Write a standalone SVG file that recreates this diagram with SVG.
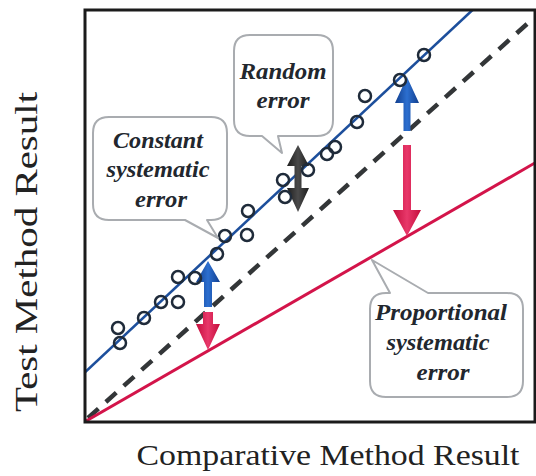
<svg xmlns="http://www.w3.org/2000/svg" width="536" height="476" viewBox="0 0 536 476">
  <style>
    .frame { fill: none; stroke: #1b1b1b; stroke-width: 3; }
    .axis-title { font-family: "Liberation Serif", "DejaVu Serif", serif; fill: #222; }
    .callout { fill: #ffffff; stroke: #a9acb0; stroke-width: 2; stroke-linejoin: round; }
    .callout-text { font-family: "Liberation Serif", "DejaVu Serif", serif; font-weight: bold; font-style: italic; font-size: 24px; fill: #22272e; text-anchor: middle; }
    .pt { fill: none; stroke: #1f2b3a; stroke-width: 2.5; }
    .fit-line { fill: none; stroke: #1d4f9c; stroke-width: 2.6; }
    .ident-line { fill: none; stroke: #333638; stroke-width: 4.5; stroke-dasharray: 14 10; }
    .prop-line { fill: none; stroke: #d3144a; stroke-width: 3; }
    .arrow-blue { fill: url(#gBlue); }
    .arrow-red { fill: url(#gRed); }
    .arrow-dark { fill: url(#gDark); }
  </style>
  <defs>
    <clipPath id="plotArea">
      <rect x="85" y="10" width="450" height="412"/>
    </clipPath>
    <linearGradient id="gBlue" x1="0" y1="0" x2="1" y2="0">
      <stop offset="0" stop-color="#123f8e"/>
      <stop offset="0.5" stop-color="#2c6fd0"/>
      <stop offset="1" stop-color="#123f8e"/>
    </linearGradient>
    <linearGradient id="gRed" x1="0" y1="0" x2="1" y2="0">
      <stop offset="0" stop-color="#c40d3c"/>
      <stop offset="0.5" stop-color="#e8386a"/>
      <stop offset="1" stop-color="#c40d3c"/>
    </linearGradient>
    <linearGradient id="gDark" x1="0" y1="0" x2="1" y2="0">
      <stop offset="0" stop-color="#1e1e1e"/>
      <stop offset="0.5" stop-color="#4a4a4a"/>
      <stop offset="1" stop-color="#1e1e1e"/>
    </linearGradient>
  </defs>

  <rect width="536" height="476" fill="#ffffff"/>

  <!-- axis titles -->
  <text class="axis-title" font-size="32" text-anchor="middle" textLength="320" lengthAdjust="spacingAndGlyphs" transform="translate(37,252) rotate(-90)">Test Method Result</text>
  <text class="axis-title" x="328" y="465" font-size="30" text-anchor="middle" textLength="383" lengthAdjust="spacingAndGlyphs">Comparative Method Result</text>

  <!-- lines and error arrows -->
  <g id="connectors">
    <g clip-path="url(#plotArea)">
      <line class="ident-line" x1="88" y1="418" x2="527" y2="24"/>
      <line class="prop-line" x1="86" y1="421" x2="540" y2="160"/>
      <line class="fit-line" x1="80" y1="377" x2="480" y2="3"/>
    </g>
    <!-- constant systematic error -->
    <path class="arrow-blue" d="M204,307 V282 H196 L208,261 L220,282 H212 V307 Z"/>
    <path class="arrow-red" d="M203,312 V324 H196 L208,350 L220,324 H213 V312 Z"/>
    <!-- proportional systematic error -->
    <path class="arrow-blue" d="M403.5,131 V103 H395 L407,77 L419,103 H410.5 V131 Z"/>
    <path class="arrow-red" d="M403,145 V210 H393 L407,236 L421,210 H411 V145 Z"/>
    <!-- random error -->
    <path class="arrow-dark" d="M298,145 L309,166 H301.5 V188 H309 L298,212 L287,188 H294.5 V166 H287 Z"/>
  </g>

  <!-- data points -->
  <g id="points">
    <circle class="pt" cx="118" cy="328" r="6"/>
    <circle class="pt" cx="120" cy="343" r="6"/>
    <circle class="pt" cx="144" cy="318" r="6"/>
    <circle class="pt" cx="161" cy="302" r="6"/>
    <circle class="pt" cx="178" cy="302" r="6"/>
    <circle class="pt" cx="178" cy="277" r="6"/>
    <circle class="pt" cx="195" cy="278" r="6"/>
    <circle class="pt" cx="217" cy="254" r="6"/>
    <circle class="pt" cx="225" cy="236" r="6"/>
    <circle class="pt" cx="247" cy="235" r="6"/>
    <circle class="pt" cx="248" cy="211" r="6"/>
    <circle class="pt" cx="283" cy="180" r="6"/>
    <circle class="pt" cx="285" cy="197" r="6"/>
    <circle class="pt" cx="308" cy="170" r="6"/>
    <circle class="pt" cx="327" cy="154" r="6"/>
    <circle class="pt" cx="335" cy="147" r="6"/>
    <circle class="pt" cx="357" cy="122" r="6"/>
    <circle class="pt" cx="365" cy="96" r="6"/>
    <circle class="pt" cx="400" cy="80" r="6"/>
    <circle class="pt" cx="424" cy="55" r="6"/>
  </g>

  <!-- plot frame -->
  <rect class="frame" x="85" y="10" width="450" height="412"/>

  <g id="random-error">
    <path class="callout" d="M250,35 H317 Q333,35 333,51 V120 Q333,136 317,136 H278 L282,153 L262,136 H250 Q234,136 234,120 V51 Q234,35 250,35 Z"/>
    <text class="callout-text" x="283" y="79" textLength="87" lengthAdjust="spacingAndGlyphs">Random</text>
    <text class="callout-text" x="283" y="108" textLength="53" lengthAdjust="spacingAndGlyphs">error</text>
  </g>

  <g id="constant-error">
    <path class="callout" d="M109,117 H211 Q227,117 227,133 V204 Q227,220 211,220 H207 L218,238 L185,220 H109 Q93,220 93,204 V133 Q93,117 109,117 Z"/>
    <text class="callout-text" x="158" y="148" textLength="90" lengthAdjust="spacingAndGlyphs">Constant</text>
    <text class="callout-text" x="158" y="177" textLength="103" lengthAdjust="spacingAndGlyphs">systematic</text>
    <text class="callout-text" x="161" y="207" textLength="52" lengthAdjust="spacingAndGlyphs">error</text>
  </g>

  <g id="proportional-error">
    <path class="callout" d="M386,293 H390 L372,260 L428,293 H507 Q523,293 523,309 V381 Q523,397 507,397 H386 Q370,397 370,381 V309 Q370,293 386,293 Z"/>
    <text class="callout-text" x="441" y="320" textLength="132" lengthAdjust="spacingAndGlyphs">Proportional</text>
    <text class="callout-text" x="438" y="350" textLength="103" lengthAdjust="spacingAndGlyphs">systematic</text>
    <text class="callout-text" x="443" y="380" textLength="53" lengthAdjust="spacingAndGlyphs">error</text>
  </g>
</svg>
